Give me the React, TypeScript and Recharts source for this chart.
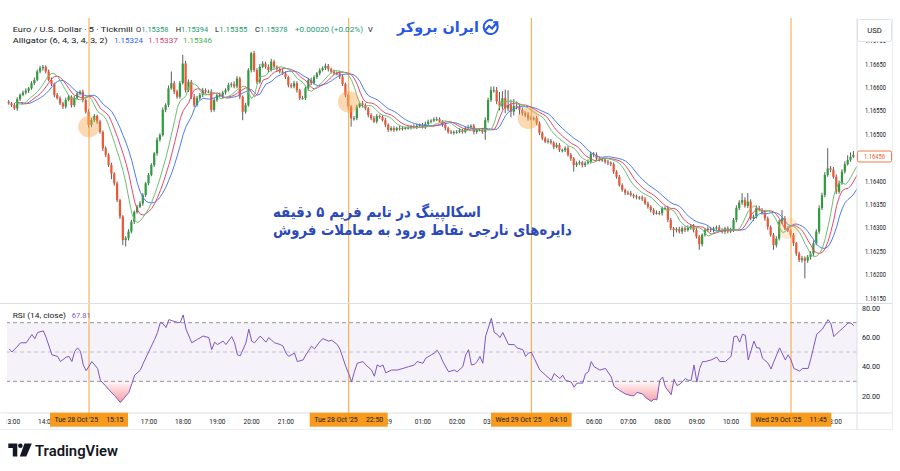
import React, { useLayoutEffect, useRef, useState } from 'react';
import {
  ComposedChart,
  Bar,
  Line,
  Area,
  XAxis,
  YAxis,
  ReferenceLine,
  ReferenceDot,
  ReferenceArea,
} from 'recharts';

// EURUSD 5m candles, Tue 28 Oct 12:55 -> Wed 29 Oct 13:35
// prices kept in points above 1.16000 (1 pt = 0.00001)
const firstOpen = 569;
const closePts = [
  566, 562, 555, 575, 584, 589, 593, 598, 609, 616,
  634, 641, 644, 634, 616, 607, 584, 577, 566, 559,
  573, 580, 562, 577, 587, 591, 573, 548, 520, 530,
  539, 527, 505, 470, 456, 434, 416, 395, 359, 324,
  274, 278, 292, 313, 334, 345, 352, 370, 395, 413,
  434, 459, 488, 498, 552, 562, 598, 609, 591, 580,
  609, 651, 594, 612, 580, 562, 577, 584, 594, 591,
  591, 552, 573, 584, 582, 589, 594, 605, 607, 602,
  619, 580, 548, 562, 637, 673, 637, 612, 644, 651,
  644, 637, 655, 644, 639, 634, 630, 622, 605, 602,
  609, 594, 577, 577, 598, 616, 609, 622, 630, 637,
  641, 646, 639, 634, 630, 630, 623, 607, 584, 559,
  534, 534, 559, 566, 562, 555, 541, 534, 527, 539,
  537, 530, 520, 509, 513, 509, 513, 512, 513, 513,
  514, 516, 515, 518, 520, 515, 522, 527, 529, 532,
  532, 527, 520, 513, 505, 503, 505, 505, 508, 505,
  513, 515, 518, 505, 509, 509, 505, 530, 573, 594,
  594, 570, 559, 577, 555, 562, 548, 560, 559, 552,
  545, 541, 534, 534, 534, 523, 503, 491, 484, 486,
  482, 473, 477, 466, 466, 470, 456, 448, 434, 438,
  440, 434, 438, 441, 458, 456, 448, 445, 446, 441,
  439, 436, 420, 409, 391, 381, 375, 374, 370, 367,
  365, 365, 361, 352, 345, 338, 331, 332, 331, 342,
  342, 317, 299, 295, 297, 292, 299, 295, 300, 304,
  295, 281, 265, 285, 295, 298, 295, 299, 301, 295,
  292, 299, 292, 295, 317, 342, 354, 359, 347, 356,
  320, 324, 342, 338, 332, 320, 302, 285, 263, 277,
  313, 320, 299, 294, 285, 267, 245, 231, 235, 230,
  238, 245, 267, 292, 342, 370, 413, 427, 424, 409,
  377, 395, 420, 436, 445, 452, 456,
];
const upWick = [
  4, 3, 5, 4, 3, 4, 5, 3, 4, 5,
  4, 5, 4, 3, 4, 5, 3, 4, 4, 3,
  5, 4, 3, 5, 4, 3, 4, 3, 6, 5,
  4, 3, 4, 3, 4, 3, 5, 3, 4, 3,
  3, 4, 5, 4, 3, 4, 5, 4, 3, 4,
  4, 3, 5, 4, 5, 4, 6, 25, 5, 4,
  5, 19, 6, 5, 4, 6, 5, 4, 5, 4,
  4, 5, 4, 3, 5, 4, 4, 5, 4, 6,
  5, 4, 3, 5, 4, 3, 5, 4, 6, 5,
  4, 5, 6, 4, 3, 4, 5, 4, 3, 4,
  5, 4, 3, 5, 4, 4, 5, 4, 3, 4,
  4, 5, 4, 3, 4, 4, 5, 4, 3, 4,
  3, 5, 4, 4, 5, 4, 3, 4, 5, 4,
  3, 4, 5, 3, 4, 4, 3, 5, 4, 3,
  4, 3, 5, 4, 3, 4, 5, 4, 3, 4,
  5, 4, 3, 4, 3, 4, 3, 4, 5, 3,
  4, 5, 3, 4, 3, 4, 4, 6, 5, 8,
  8, 7, 20, 15, 18, 32, 12, 15, 10, 6,
  5, 4, 6, 5, 4, 5, 4, 3, 4, 5,
  4, 3, 5, 4, 3, 4, 5, 4, 3, 4,
  4, 3, 4, 5, 4, 4, 5, 4, 3, 4,
  4, 3, 4, 3, 4, 4, 3, 4, 5, 3,
  4, 3, 4, 5, 4, 3, 4, 5, 4, 3,
  4, 5, 4, 3, 4, 5, 4, 4, 5, 3,
  4, 5, 4, 3, 4, 5, 4, 3, 4, 5,
  4, 3, 4, 5, 4, 6, 5, 15, 6, 18,
  5, 4, 6, 5, 4, 5, 4, 3, 4, 5,
  4, 18, 5, 4, 3, 4, 3, 4, 5, 4,
  4, 5, 6, 5, 6, 5, 6, 43, 5, 6,
  5, 6, 5, 6, 10, 9, 8,
];
const dnWick = [
  3, 4, 3, 5, 4, 3, 4, 5, 3, 4,
  3, 4, 5, 4, 3, 4, 5, 3, 4, 5,
  4, 3, 5, 4, 3, 4, 5, 4, 6, 5,
  4, 5, 4, 6, 5, 4, 12, 5, 4, 5,
  11, 14, 5, 4, 5, 4, 3, 5, 4, 4,
  3, 4, 5, 4, 3, 5, 4, 3, 5, 4,
  4, 3, 5, 4, 5, 4, 3, 4, 5, 4,
  3, 5, 4, 4, 3, 5, 4, 3, 5, 4,
  4, 5, 18, 4, 3, 5, 4, 5, 4, 3,
  4, 5, 3, 4, 5, 4, 3, 4, 5, 4,
  4, 5, 4, 3, 4, 5, 4, 3, 4, 4,
  3, 4, 5, 4, 3, 4, 5, 4, 5, 6,
  18, 5, 4, 3, 5, 4, 5, 4, 3, 4,
  4, 3, 5, 4, 3, 4, 3, 4, 4, 3,
  3, 4, 3, 4, 4, 3, 4, 3, 4, 3,
  4, 3, 4, 5, 4, 3, 4, 4, 3, 4,
  3, 4, 4, 5, 4, 3, 4, 17, 5, 4,
  5, 6, 8, 6, 10, 6, 12, 8, 6, 10,
  5, 4, 5, 4, 5, 4, 5, 4, 3, 4,
  4, 5, 3, 4, 5, 4, 4, 5, 14, 4,
  4, 5, 4, 3, 4, 5, 4, 3, 4, 4,
  5, 4, 5, 4, 3, 4, 5, 4, 3, 4,
  4, 5, 4, 3, 4, 5, 4, 3, 4, 5,
  4, 5, 4, 14, 5, 4, 5, 4, 3, 4,
  5, 4, 12, 5, 4, 3, 4, 5, 4, 3,
  4, 5, 4, 3, 4, 5, 4, 5, 4, 5,
  4, 5, 4, 3, 4, 5, 6, 4, 10, 5,
  4, 5, 4, 3, 5, 6, 5, 4, 5, 38,
  5, 6, 5, 4, 5, 4, 5, 4, 5, 4,
  5, 4, 3, 4, 3, 4, 3,
];

// RSI (14, close) read at these candle indexes
const rsiAt = [
  0, 1, 3, 4, 6, 7, 8, 9, 10, 12, 13, 15, 17, 18, 20, 21, 22, 23, 24, 25,
  26, 27, 29, 31, 32, 34, 35, 37, 39, 41, 42, 43, 44, 46, 47, 49, 51, 52, 53, 54,
  55, 56, 57, 59, 60, 61, 62, 64, 66, 68, 70, 71, 72, 73, 75, 76, 78, 79, 80, 81,
  83, 84, 85, 86, 88, 90, 91, 93, 95, 96, 97, 98, 100, 101, 103, 104, 106, 107, 109, 110,
  112, 113, 115, 116, 118, 119, 120, 121, 122, 124, 125, 127, 128, 129, 130, 131, 132, 134, 136, 138,
  140, 142, 143, 145, 146, 148, 149, 150, 151, 152, 154, 156, 157, 159, 160, 161, 162, 163, 164, 165,
  166, 167, 169, 170, 171, 172, 173, 175, 177, 178, 180, 181, 182, 183, 184, 186, 188, 190, 191, 193,
  194, 195, 197, 198, 199, 201, 202, 203, 204, 205, 207, 209, 211, 212, 214, 216, 218, 219, 220, 222,
  223, 225, 226, 227, 228, 229, 230, 232, 233, 234, 235, 237, 238, 239, 240, 241, 242, 243, 244, 246,
  248, 249, 251, 253, 254, 255, 256, 257, 258, 259, 261, 262, 263, 264, 266, 267, 268, 270, 272, 273,
  274, 275, 277, 278, 280, 281, 283, 285, 287, 288, 289, 291, 292, 293, 294, 295, 296,
];
const rsiVal = [
  52.1, 50.0, 54.0, 56.3, 56.3, 59.1, 61.9, 59.1, 63.3, 64.4, 59.8, 48.1, 47.0, 43.5, 46.5, 47.0, 43.5, 50.5, 52.8, 50.5,
  41.2, 37.2, 43.5, 38.8, 30.7, 26.5, 24.2, 20.2, 15.6, 20.2, 22.5, 28.3, 34.2, 37.7, 42.3, 50.5, 58.6, 63.3, 70.2, 69.1,
  66.7, 72.1, 71.4, 70.2, 70.2, 75.3, 65.6, 56.3, 58.6, 60.9, 59.8, 51.6, 56.7, 55.1, 57.4, 55.1, 60.5, 56.3, 48.1, 47.4,
  56.3, 65.6, 57.4, 56.3, 60.9, 56.7, 59.8, 56.3, 55.1, 54.0, 49.3, 47.0, 49.3, 43.5, 44.6, 48.1, 54.0, 52.1, 57.4, 59.1,
  57.4, 58.1, 55.1, 51.6, 40.0, 35.3, 29.5, 36.5, 42.3, 43.5, 41.2, 37.7, 33.5, 41.2, 40.0, 41.2, 35.8, 37.7, 37.7, 38.8,
  40.0, 41.2, 43.5, 42.3, 45.8, 48.1, 49.3, 51.2, 48.1, 43.5, 36.5, 37.7, 36.5, 40.0, 48.1, 51.6, 41.2, 41.6, 43.5, 47.0,
  42.3, 60.9, 73.0, 63.3, 62.1, 59.8, 63.3, 55.1, 55.1, 52.8, 51.6, 47.0, 49.3, 49.8, 45.8, 37.7, 34.2, 30.7, 35.3, 31.9,
  34.2, 30.7, 29.5, 26.0, 28.8, 28.8, 35.3, 36.5, 43.5, 40.0, 37.7, 38.8, 33.0, 26.5, 23.7, 21.4, 20.2, 20.2, 22.5, 21.4,
  19.1, 16.3, 17.9, 17.4, 30.7, 33.0, 26.0, 20.9, 31.4, 27.2, 27.9, 31.9, 30.7, 30.7, 41.2, 29.5, 38.8, 43.5, 43.5, 44.6,
  46.5, 43.5, 43.5, 47.0, 60.5, 60.9, 56.7, 62.1, 61.4, 44.6, 57.4, 52.8, 52.8, 45.8, 42.3, 38.4, 43.5, 52.8, 44.6, 48.1,
  44.6, 38.8, 37.0, 38.8, 38.8, 45.8, 62.1, 65.6, 72.1, 69.1, 60.5, 64.4, 66.0, 67.9, 69.8, 69.8, 67.8,
];

// time axis
const hourAt = [1, 13, 25, 37, 49, 61, 73, 85, 97, 109, 121, 133, 145, 157, 169, 181, 193, 205, 217, 229, 241, 253, 265, 277, 289];
const hourLabel = [
  '13:00', '14:00', '15:00', '16:00', '17:00', '18:00', '19:00', '20:00', '21:00', '22:00', '23:00', '29',
  '01:00', '02:00', '03:00', '04:00', '05:00', '06:00', '07:00', '08:00', '09:00', '10:00', '11:00', '12:00', '13:00',
];
const priceTicks = [1.1615, 1.162, 1.1625, 1.163, 1.1635, 1.164, 1.1645, 1.165, 1.1655, 1.166, 1.1665, 1.167];
const rsiTicks = [20, 40, 60, 80];

// annotations
const markAt = [28, 119, 183, 274];
const markDay = ["Tue 28 Oct '25", "Tue 28 Oct '25", "Wed 29 Oct '25", "Wed 29 Oct '25"];
const markTime = ['15:15', '22:50', '04:10', '11:45'];
const circleAt = [28, 119, 182, 273];
const circlePts = [516, 569, 534, 299];

const N = closePts.length;
const P = (pts: number) => 1.16 + pts / 100000;

const X0 = -0.736;
const X1 = 297.12;
const PLOT_L = 7;
const PLOT_R = 857;
const xOf = (i: number) => PLOT_L + ((i - X0) / (X1 - X0)) * (PLOT_R - PLOT_L);
const boxW = (k: number) => (markDay[k].startsWith('Wed') ? 80.5 : 78);
const boxes = markAt.map((m, k) => [xOf(m) - boxW(k) / 2, xOf(m) + boxW(k) / 2]);

const UP = '#2f9c3f';
const DOWN = '#ef5634';
const WICK = '#4b4b4b';
const ORANGE = '#f4a43a';
const FONT = 'Roboto, sans-serif';

// Alligator (6, 4, 3, 4, 3, 2): smoothed MA of hl2, shifted forward
function smma(src: number[], n: number) {
  const out: number[] = [];
  let prev = src[0];
  src.forEach((v, i) => {
    prev = i === 0 ? v : (prev * (n - 1) + v) / n;
    out.push(prev);
  });
  return out;
}

const candles = closePts.map((c, i) => {
  const o = i === 0 ? firstOpen : closePts[i - 1];
  const hi = Math.max(o, c) + upWick[i];
  const lo = Math.min(o, c) - dnWick[i];
  return { o, c, hi, lo };
});
const hl2 = candles.map((k) => (k.hi + k.lo) / 2);
const jawS = smma(hl2, 6);
const teethS = smma(hl2, 4);
const lipsS = smma(hl2, 3);

const rows = Array.from({ length: N + 4 }, (_, i) => {
  const row: any = { i };
  if (i < N) {
    const k = candles[i];
    row.o = P(k.o);
    row.c = P(k.c);
    row.hi = P(k.hi);
    row.lo = P(k.lo);
    row.range = [P(k.lo), P(k.hi)];
  }
  const j = i - 4;
  const t = i - 3;
  const l = i - 2;
  row.jaw = j >= 0 && j < N ? P(jawS[j]) : null;
  row.teeth = t >= 0 && t < N ? P(teethS[t]) : null;
  row.lips = l >= 0 && l < N ? P(lipsS[l]) : null;
  return row;
});

const rsiRows = rsiAt.map((i, k) => ({
  i,
  rsi: rsiVal[k],
  os: rsiVal[k] < 30 ? [rsiVal[k], 30] : [30, 30],
}));

const Candle = (props: any) => {
  const { x, y, width, height, payload } = props;
  if (!payload || payload.hi == null) return null;
  const top = Math.min(y, y + height);
  const h = Math.abs(height);
  const cx = x + width / 2;
  const span = payload.hi - payload.lo;
  const py = (v: number) => top + (span === 0 ? 0 : ((payload.hi - v) / span) * h);
  const bTop = py(Math.max(payload.o, payload.c));
  const bBot = py(Math.min(payload.o, payload.c));
  const color = payload.c >= payload.o ? UP : DOWN;
  return (
    <g>
      <line x1={cx} x2={cx} y1={top} y2={top + h} stroke={WICK} strokeWidth={0.9} />
      <rect x={cx - 1.1} y={bTop} width={2.2} height={Math.max(1, bBot - bTop)} fill={color} />
    </g>
  );
};

const PriceTick = ({ x, y, payload }: any) => (
  <text x={x + 8} y={y + 2.5} fontSize={7.2} fill="#131722" fontFamily={FONT} textLength={21} lengthAdjust="spacingAndGlyphs">
    {payload.value.toFixed(5)}
  </text>
);

const RsiTick = ({ x, y, payload }: any) => (
  <text x={x + 5} y={y + 2.5} fontSize={7.2} fill="#131722" fontFamily={FONT} textLength={18} lengthAdjust="spacingAndGlyphs">
    {payload.value.toFixed(2)}
  </text>
);

const TimeTick = ({ x, y, payload }: any) => {
  const label = hourLabel[hourAt.indexOf(payload.value)] ?? '';
  const w = label.length * 3.25;
  // labels lying completely under a date box are not visible
  if (boxes.some(([a, b]) => x - w / 2 >= a && x + w / 2 <= b)) return null;
  return (
    <text x={x} y={y + 10.5} textAnchor="middle" fontSize={7.2} fill="#131722" fontFamily={FONT} textLength={w} lengthAdjust="spacingAndGlyphs">
      {label}
    </text>
  );
};

// text squeezed/stretched horizontally to a given width
function FitText({ x, y, width, children, ...rest }: any) {
  const ref = useRef<SVGTextElement>(null);
  const [k, setK] = useState(1);
  useLayoutEffect(() => {
    if (ref.current) {
      const w = ref.current.getComputedTextLength();
      if (w > 0) setK(width / w);
    }
  }, [width]);
  return (
    <text ref={ref} x={0} y={0} transform={`translate(${x},${y}) scale(${k},1)`} {...rest}>
      {children}
    </text>
  );
}

function Overlay() {
  const t = { fontFamily: FONT, fontSize: 7.6 } as const;
  const fa = { fontFamily: 'DejaVu Sans', fontWeight: 'bold' } as const;
  return (
    <svg width={900} height={471} style={{ position: 'absolute', left: 0, top: 0, pointerEvents: 'none' }}>
      {/* frames */}
      <line x1={0} x2={893} y1={303.5} y2={303.5} stroke="#dcdfe6" />
      <line x1={0} x2={893} y1={413} y2={413} stroke="#dcdfe6" />
      <line x1={0} x2={893} y1={429.5} y2={429.5} stroke="#eceef2" />
      <line x1={857} x2={857} y1={413} y2={429.5} stroke="#dcdfe6" />
      <line x1={892.5} x2={892.5} y1={18} y2={429.5} stroke="#eceef2" />
      <rect x={0} y={413.5} width={6.5} height={15.5} fill="#fff" />

      {/* legend lines */}
      <text x={12.7} y={32} {...t} fill="#131722" textLength={120} lengthAdjust="spacingAndGlyphs">Euro / U.S. Dollar · 5 · Tickmill</text>
      {[
        ['O', '1.15358', 136],
        ['H', '1.15394', 175.7],
        ['L', '1.15355', 215],
        ['C', '1.15378', 255],
      ].map(([a, b, x]) => (
        <text key={a as string} x={x as number} y={32} {...t} textLength={32.5} lengthAdjust="spacingAndGlyphs">
          <tspan fill="#131722">{a}</tspan>
          <tspan fill="#22996e">{b}</tspan>
        </text>
      ))}
      <text x={295} y={32} {...t} fill="#22996e" textLength={68} lengthAdjust="spacingAndGlyphs">+0.00020 (+0.02%)</text>
      <text x={368} y={32} {...t} fill="#131722">V</text>
      <text x={12.7} y={42.7} {...t} fill="#131722" textLength={95} lengthAdjust="spacingAndGlyphs">Alligator (6, 4, 3, 4, 3, 2)</text>
      <text x={114} y={42.7} {...t} fill="#2f63e8" textLength={29} lengthAdjust="spacingAndGlyphs">1.15324</text>
      <text x={148} y={42.7} {...t} fill="#e0416c" textLength={30} lengthAdjust="spacingAndGlyphs">1.15337</text>
      <text x={183} y={42.7} {...t} fill="#4caf50" textLength={29} lengthAdjust="spacingAndGlyphs">1.15346</text>
      <text x={12.7} y={317.8} {...t} fill="#131722" textLength={53.3} lengthAdjust="spacingAndGlyphs">RSI (14, close)</text>
      <text x={71.7} y={317.8} {...t} fill="#7e57c2" textLength={19} lengthAdjust="spacingAndGlyphs">67.81</text>

      {/* brand */}
      <FitText x={397} y={31.5} width={82} {...fa} fontSize={14} fill="#2558e8">ایران بروکر</FitText>
      <g stroke="#2558e8" strokeWidth={2} fill="none" strokeLinecap="round">
        <path d="M 497 24 A 7 7 0 1 1 492 20.2" />
        <polyline points="485.5,30 489,26 492,28.5 497,22.5" />
        <polyline points="494,22.3 497.3,22.2 497.2,25.5" />
      </g>

      {/* price scale labels */}
      <rect x={857.5} y={19.5} width={34} height={22} fill="#fff" stroke="#e0e3eb" rx={2} />
      <text x={874.5} y={33} fontFamily={FONT} fontSize={7.6} fill="#131722" textAnchor="middle">USD</text>
      <rect x={857.5} y={151} width={34} height={11} fill="#fff" stroke="#f07a45" rx={1.5} />
      <text x={874.5} y={159} fontFamily={FONT} fontSize={7.2} fill="#f0622d" textAnchor="middle" textLength={21} lengthAdjust="spacingAndGlyphs">1.16456</text>

      {/* date boxes on the time axis */}
      {markAt.map((m, k) => {
        const [left, right] = boxes[k];
        const w = right - left;
        return (
          <g key={m}>
            <rect x={left} y={412.7} width={w} height={14} fill="#f89a1c" />
            <text x={left + 4.5} y={422.3} fontFamily={FONT} fontSize={7} fill="#131722" textLength={w - 34.5} lengthAdjust="spacingAndGlyphs">{markDay[k]}</text>
            <text x={right - 4.5} y={422.3} fontFamily={FONT} fontSize={7} fill="#131722" textAnchor="end" textLength={17.3} lengthAdjust="spacingAndGlyphs">{markTime[k]}</text>
          </g>
        );
      })}

      {/* caption */}
      <FitText x={273} y={216.5} width={208} {...fa} fontSize={15} fill="#2a48b9">اسکالپینگ در تایم فریم ۵ دقیقه</FitText>
      <FitText x={273} y={235} width={299} {...fa} fontSize={15} fill="#2a48b9">دایره‌های نارجی نقاط ورود به معاملات فروش</FitText>

      {/* TradingView mark */}
      <g fill="#131722">
        <path d="M 8.3 443.5 H 17.3 V 456.5 H 12.8 V 448 H 8.3 Z" />
        <circle cx={20.4} cy={445.8} r={2.3} />
        <path d="M 24.5 443.5 H 31.8 L 26.3 456.5 H 19.8 Z" />
      </g>
      <text x={35} y={455.6} fontFamily={FONT} fontWeight={600} fontSize={15.5} fill="#131722" textLength={83} lengthAdjust="spacingAndGlyphs">TradingView</text>
    </svg>
  );
}

export default function App() {
  return (
    <div style={{ position: 'absolute', left: 0, top: 0, width: 900, height: 471, background: '#fff', overflow: 'hidden', fontFamily: FONT }}>
      <div style={{ position: 'absolute', left: 0, top: 0 }}>
        <ComposedChart width={900} height={304} data={rows} margin={{ top: 18, right: 0, bottom: 0, left: PLOT_L }}>
          <XAxis type="number" dataKey="i" domain={[X0, X1]} allowDataOverflow hide />
          <YAxis
            orientation="right"
            type="number"
            domain={[P(137.2), P(748.3)]}
            allowDataOverflow
            ticks={priceTicks}
            interval={0}
            width={43}
            tick={<PriceTick />}
            tickLine={false}
            tickSize={0}
            tickMargin={0}
            axisLine={{ stroke: '#dcdfe6' }}
          />
          {circleAt.map((c, k) => (
            <ReferenceDot
              key={c}
              x={c}
              y={P(circlePts[k])}
              r={10.8}
              fill="#f7a548"
              fillOpacity={k === 3 ? 0.22 : 0.42}
              stroke="none"
            />
          ))}
          {markAt.map((m) => (
            <ReferenceLine key={m} x={m} stroke={ORANGE} strokeWidth={1} />
          ))}
          <Bar dataKey="range" barSize={2} shape={(p: any) => <Candle {...p} />} isAnimationActive={false} />
          <Line dataKey="jaw" stroke="#4c7cf0" strokeWidth={1} dot={false} isAnimationActive={false} />
          <Line dataKey="teeth" stroke="#e8476e" strokeWidth={1} dot={false} isAnimationActive={false} />
          <Line dataKey="lips" stroke="#6cc070" strokeWidth={1} dot={false} isAnimationActive={false} />
        </ComposedChart>
      </div>
      <div style={{ position: 'absolute', left: 0, top: 304 }}>
        <ComposedChart width={900} height={126} data={rsiRows} margin={{ top: 0, right: 0, bottom: 0, left: PLOT_L }}>
          <defs>
            <linearGradient id="osFill" x1="0" y1="0" x2="0" y2="1">
              <stop offset="0%" stopColor="#f23645" stopOpacity={0.04} />
              <stop offset="100%" stopColor="#f23645" stopOpacity={0.5} />
            </linearGradient>
          </defs>
          <XAxis
            type="number"
            dataKey="i"
            domain={[X0, X1]}
            allowDataOverflow
            ticks={hourAt}
            interval={0}
            height={17}
            tick={<TimeTick />}
            tickLine={false}
            tickSize={0}
            tickMargin={0}
            axisLine={false}
          />
          <YAxis
            orientation="right"
            type="number"
            domain={[8.43, 82.73]}
            allowDataOverflow
            ticks={rsiTicks}
            interval={0}
            width={43}
            tick={<RsiTick />}
            tickLine={false}
            tickSize={0}
            tickMargin={0}
            axisLine={{ stroke: '#dcdfe6' }}
          />
          <ReferenceArea y1={30} y2={70} fill="#7e57c2" fillOpacity={0.08} stroke="none" />
          <ReferenceLine y={70} stroke="#787b86" strokeDasharray="4 3" strokeWidth={0.8} />
          <ReferenceLine y={50} stroke="#787b86" strokeOpacity={0.5} strokeDasharray="4 3" strokeWidth={0.8} />
          <ReferenceLine y={30} stroke="#787b86" strokeDasharray="4 3" strokeWidth={0.8} />
          {markAt.map((m) => (
            <ReferenceLine key={m} x={m} stroke={ORANGE} strokeWidth={1} />
          ))}
          <Area dataKey="os" stroke="none" fill="url(#osFill)" fillOpacity={1} isAnimationActive={false} />
          <Line dataKey="rsi" stroke="#7e57c2" strokeWidth={1} dot={false} isAnimationActive={false} />
        </ComposedChart>
      </div>
      <Overlay />
    </div>
  );
}
